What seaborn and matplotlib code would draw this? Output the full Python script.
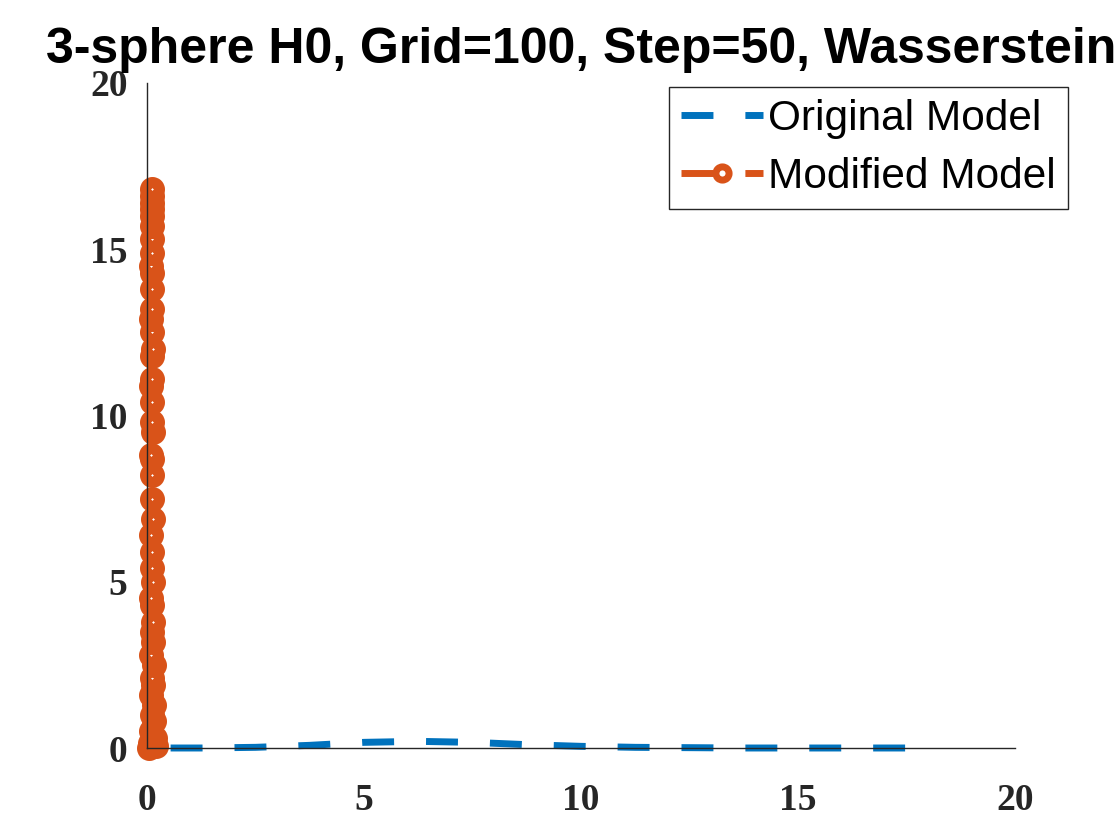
import matplotlib
matplotlib.use("Agg")
import matplotlib.pyplot as plt
import seaborn as sns
import pandas as pd

# data
orig_x = [0, 1.25, 2.5, 3.75, 5, 6.25, 7.5, 8.75, 10, 11.25, 12.5, 13.75, 15, 16.25, 17.5]
orig_y = [0, 0.0, 0.02, 0.08, 0.17, 0.2, 0.17, 0.1, 0.05, 0.02, 0.01, 0.0, 0.0, 0.0, 0.0]

mod_y = [0.0, 0.05, 0.15, 0.3, 0.5, 0.8, 1.0, 1.3, 1.6, 1.9, 2.1, 2.5, 2.8, 3.2, 3.5,
         3.8, 4.3, 4.5, 5.0, 5.4, 5.9, 6.4, 6.9, 7.5, 8.2, 8.7, 8.8, 9.5, 9.8, 10.4,
         10.9, 11.1, 11.8, 12.0, 12.5, 12.9, 13.2, 13.8, 14.3, 14.5, 14.9, 15.3,
         15.7, 16.0, 16.2, 16.4, 16.6, 16.8]
mod_x = [0.05, 0.2, 0.08, 0.18, 0.1, 0.15, 0.12, 0.17, 0.1, 0.14, 0.12, 0.16, 0.1,
         0.13, 0.11, 0.14, 0.12, 0.1, 0.13, 0.11, 0.12, 0.1, 0.13, 0.12, 0.11, 0.12,
         0.1, 0.13, 0.11, 0.12, 0.1, 0.12, 0.11, 0.13, 0.12, 0.1, 0.12, 0.11, 0.12,
         0.1, 0.12, 0.11, 0.12, 0.11, 0.12, 0.11, 0.12, 0.12]

blue = "#0072BD"
orange = "#D95319"

sns.set_style("white")
plt.rcParams["lines.scale_dashes"] = False

fig = plt.figure(figsize=(11.2, 8.4), dpi=100)
ax = fig.add_axes([147 / 1120, 1 - 748 / 840, 868 / 1120, 665 / 840])

df_orig = pd.DataFrame({"x": orig_x, "y": orig_y})
df_mod = pd.DataFrame({"x": mod_x, "y": mod_y})

sns.lineplot(data=df_orig, x="x", y="y", ax=ax, estimator=None, sort=False,
             color=blue, linewidth=5, ls=(29, (23, 23)), dash_capstyle="butt",
             label="Original Model", clip_on=False)
sns.lineplot(data=df_mod, x="x", y="y", ax=ax, estimator=None, sort=False,
             color=orange, linewidth=5, ls=(29, (23, 23)), dash_capstyle="butt",
             marker="o", markersize=10, markeredgewidth=8,
             markeredgecolor=orange, markerfacecolor="white",
             label="Modified Model", clip_on=False)

ax.set_xlim(0, 20)
ax.set_ylim(0, 20)
ax.set_xticks([0, 5, 10, 15, 20])
ax.set_yticks([0, 5, 10, 15, 20])
ax.set_xlabel("")
ax.set_ylabel("")
for s in ["top", "right"]:
    ax.spines[s].set_visible(False)
for s in ["left", "bottom"]:
    ax.spines[s].set_color("#262626")
    ax.spines[s].set_linewidth(1)
ax.tick_params(direction="in", length=6, width=1, color="#262626",
               labelsize=27, labelcolor="#262626")
ax.tick_params(axis="x", pad=25)
ax.tick_params(axis="y", pad=14)
for lab in ax.get_xticklabels() + ax.get_yticklabels():
    lab.set_fontfamily("Liberation Serif")
    lab.set_fontweight("bold")

ax.set_title("3-sphere H0, Grid=100, Step=50, Wasserstein",
             fontsize=36, fontweight="bold", family="Liberation Sans",
             color="black", pad=14.5)

leg = ax.legend(loc="upper right", bbox_to_anchor=(1068 / 1120, 1 - 87 / 840),
                bbox_transform=fig.transFigure, borderaxespad=0,
                prop={"family": "Liberation Sans", "size": 30.5},
                handlelength=1.95, handletextpad=0.12, labelspacing=0.42,
                borderpad=0.28, fancybox=False, framealpha=1)
leg.get_frame().set_edgecolor("#262626")
leg.get_frame().set_linewidth(1)
for t in leg.get_texts():
    t.set_color("black")
for ln in leg.get_lines():
    ln.set_linestyle((0, (23, 23)))
    ln.set_markersize(9.5)
    ln.set_markeredgewidth(5)

fig.savefig("out.png", dpi=100)
